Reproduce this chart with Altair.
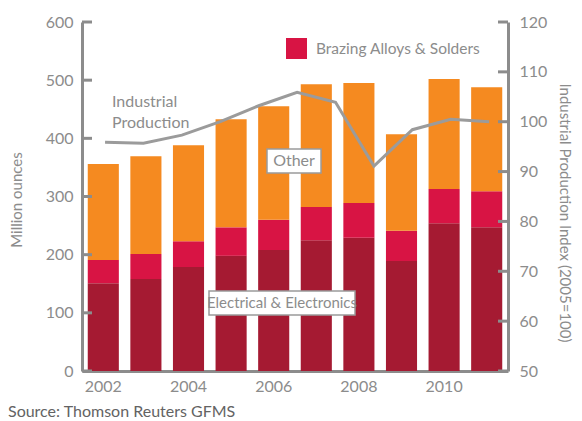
import altair as alt
import pandas as pd

# ---- data ----
years = [2002, 2003, 2004, 2005, 2006, 2007, 2008, 2009, 2010, 2011]
electrical = [151, 158, 179, 198, 208, 225, 229, 189, 254, 247]
brazing = [40, 43, 44, 49, 52, 57, 60, 52, 59, 62]
other = [165, 168, 165, 186, 195, 211, 206, 166, 189, 179]

ip_years = [2002, 2003, 2004, 2005, 2006, 2007, 2008, 2009, 2010, 2011, 2012]
ip_index = [95.9, 95.7, 97.3, 100.0, 103.2, 105.9, 103.9, 91.1, 98.4, 100.5, 100.0]

left_ticks = [0, 100, 200, 300, 400, 500, 600]
right_ticks = [50, 60, 70, 80, 90, 100, 110, 120]
x_labels = [2002, 2004, 2006, 2008, 2010]

segments = ["Electrical & Electronics", "Brazing Alloys & Solders", "Other"]
colors = ["#A51A32", "#D81444", "#F58A20"]

rows = []
for i, yr in enumerate(years):
    for k, (seg, vals) in enumerate(zip(segments, [electrical, brazing, other])):
        rows.append({"Year": yr, "Segment": seg, "Value": vals[i], "order": k})
bars_df = pd.DataFrame(rows)
ip_df = pd.DataFrame({"IPYear": ip_years, "Index": ip_index})

W, H = 426, 349
GRAY = "#8C8C8C"
LINE_GRAY = "#9B9B9B"
FONT = "Lato"
one = pd.DataFrame({"a": [0]})

left_scale = alt.Scale(domain=[0, 600], nice=False)
right_scale = alt.Scale(domain=[50, 120], nice=False, zero=False)

bars = alt.Chart(bars_df).mark_bar().encode(
    x=alt.X("Year:O",
            scale=alt.Scale(paddingInner=0.27, paddingOuter=0.135),
            axis=alt.Axis(values=x_labels, title=None, labelAngle=0, ticks=False,
                          domainColor=GRAY, domainWidth=3, labelColor=GRAY,
                          labelFontSize=16, labelPadding=7, labelFont=FONT)),
    y=alt.Y("Value:Q", stack="zero", scale=left_scale,
            axis=alt.Axis(values=left_ticks, ticks=False, grid=False, domainColor=GRAY,
                          domainWidth=3, labelColor=GRAY, labelFontSize=16, labelFont=FONT,
                          labelPadding=9, title="Million ounces", titleColor=GRAY,
                          titleFont=FONT, titleFontSize=15, titleFontWeight="normal",
                          titleX=-66, titleY=H / 2 + 3, titleAngle=-90,
                          titleAlign="center", titleBaseline="middle")),
    color=alt.Color("Segment:N", scale=alt.Scale(domain=segments, range=colors), legend=None),
    order=alt.Order("order:Q"),
)

line = alt.Chart(ip_df).mark_line(color=LINE_GRAY, strokeWidth=3).encode(
    x=alt.X("IPYear:Q", scale=alt.Scale(domain=[2001.4, 2012.49], nice=False, zero=False), axis=None),
    y=alt.Y("Index:Q", scale=right_scale,
            axis=alt.Axis(orient="right", values=right_ticks, ticks=False, grid=False,
                          domainColor=GRAY, domainWidth=3, labelColor=GRAY, labelFontSize=16,
                          labelFont=FONT, labelPadding=11,
                          title="Industrial Production Index (2005=100)", titleColor=GRAY,
                          titleFont=FONT, titleFontSize=15, titleFontWeight="normal",
                          titleX=56, titleY=H / 2 + 16, titleAngle=90,
                          titleAlign="center", titleBaseline="middle")),
)

lticks = alt.Chart(pd.DataFrame({"t": left_ticks})).mark_rule(color=GRAY, strokeWidth=3).encode(
    y=alt.Y("t:Q", scale=left_scale, axis=None),
    x=alt.value(0), x2=alt.value(10),
)
rticks = alt.Chart(pd.DataFrame({"t": right_ticks})).mark_rule(color=GRAY, strokeWidth=3).encode(
    y=alt.Y("t:Q", scale=right_scale, axis=None),
    x=alt.value(W - 10), x2=alt.value(W),
)

def box(x1, x2, y1, y2):
    return alt.Chart(one).mark_rect(fill="white", stroke=LINE_GRAY, strokeWidth=1.5).encode(
        x=alt.value(x1), x2=alt.value(x2), y=alt.value(y1), y2=alt.value(y2))

def label(txt, x, y, align="center", size=16, color=GRAY, weight="normal", baseline="middle"):
    return alt.Chart(one).mark_text(align=align, baseline=baseline, font=FONT, fontSize=size,
                                    color=color, fontWeight=weight, lineHeight=21).encode(
        x=alt.value(x), y=alt.value(y), text=alt.value(txt))

other_box = box(185, 239, 127, 151)
other_txt = label("Other", 212, 139)
ee_box = box(127, 273, 269, 293)
ee_txt = label("Electrical & Electronics", 200, 281, size=15)
leg_sq = alt.Chart(one).mark_rect(fill=colors[1]).encode(
    x=alt.value(204), x2=alt.value(225), y=alt.value(16), y2=alt.value(37))
leg_txt = label("Brazing Alloys & Solders", 234, 27, align="left", size=15.5)
ip_txt = label(["Industrial", "Production"], 30, 85, align="left", baseline="alphabetic")
source = label("Source: Thomson Reuters GFMS", -74, 390, align="left", size=16, color="#636363")

chart = alt.layer(
    bars, lticks, rticks, line, other_box, other_txt, ee_box, ee_txt,
    leg_sq, leg_txt, ip_txt, source
).resolve_scale(y="independent", x="independent").properties(
    width=W, height=H,
    autosize=alt.AutoSizeParams(type="none"),
    padding={"left": 74, "top": 14, "right": 66, "bottom": 50},
    background="white",
).configure_view(stroke=None)

chart.save("out.html", embed_options={"renderer": "svg", "actions": False})
